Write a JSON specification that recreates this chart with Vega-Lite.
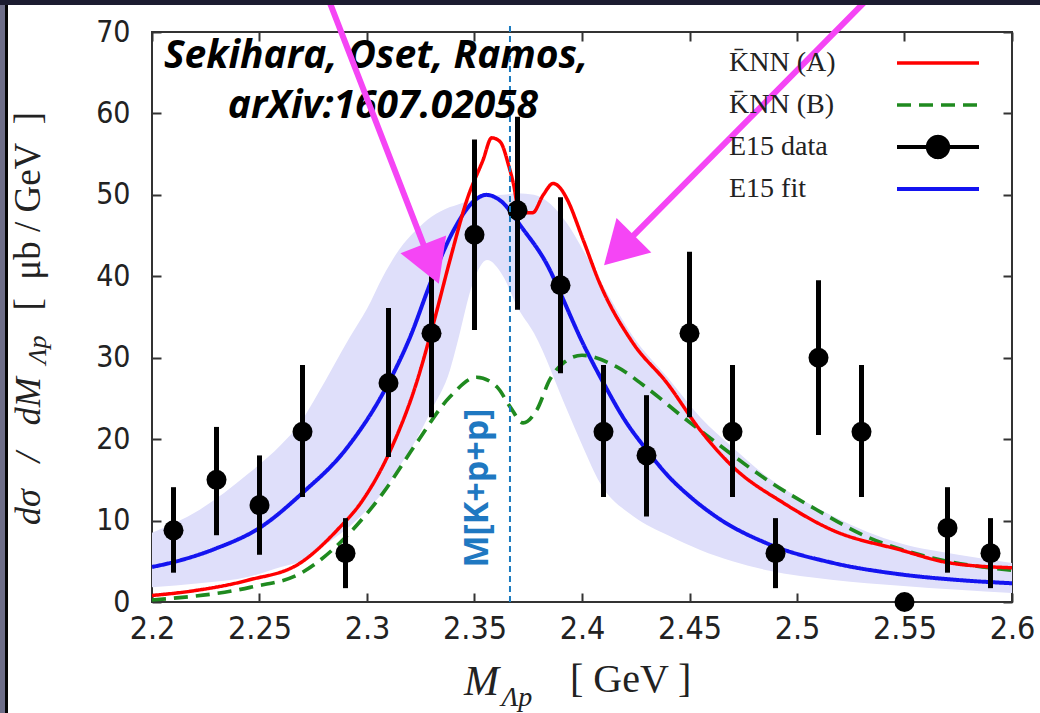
{
  "$schema": "https://vega.github.io/schema/vega-lite/v6.json",
  "width": 860,
  "height": 570,
  "autosize": {"type": "none"},
  "padding": {"left": 152, "top": 32, "right": 28, "bottom": 111},
  "background": "white",
  "config": {
    "view": {"stroke": "#333333", "strokeWidth": 2},
    "axis": {"grid": false, "domain": false, "tickColor": "#333333", "tickWidth": 2, "tickSize": -9, "labelFlush": false, "labelFont": "Liberation Sans Narrow, DejaVu Sans Condensed, sans-serif", "labelColor": "#222222", "labelFontSize": 30, "title": null}
  },
  "data": {"values": [{}]},
  "datasets": {
    "curves": [
      {"series": "E15 fit", "x": 2.200, "y": 4.3}, {"series": "E15 fit", "x": 2.210, "y": 4.9}, {"series": "E15 fit", "x": 2.230, "y": 6.6}, {"series": "E15 fit", "x": 2.250, "y": 9.1}, {"series": "E15 fit", "x": 2.270, "y": 13.4}, {"series": "E15 fit", "x": 2.290, "y": 18.7}, {"series": "E15 fit", "x": 2.310, "y": 26.9}, {"series": "E15 fit", "x": 2.320, "y": 32.5}, {"series": "E15 fit", "x": 2.330, "y": 39.5}, {"series": "E15 fit", "x": 2.340, "y": 45.5}, {"series": "E15 fit", "x": 2.350, "y": 49.3}, {"series": "E15 fit", "x": 2.3555, "y": 50.0}, {"series": "E15 fit", "x": 2.362, "y": 49.3}, {"series": "E15 fit", "x": 2.372, "y": 46.0}, {"series": "E15 fit", "x": 2.385, "y": 40.8}, {"series": "E15 fit", "x": 2.390, "y": 37.9}, {"series": "E15 fit", "x": 2.400, "y": 32.0}, {"series": "E15 fit", "x": 2.410, "y": 26.9}, {"series": "E15 fit", "x": 2.420, "y": 22.3}, {"series": "E15 fit", "x": 2.430, "y": 18.7}, {"series": "E15 fit", "x": 2.440, "y": 15.5}, {"series": "E15 fit", "x": 2.450, "y": 13.0}, {"series": "E15 fit", "x": 2.4628, "y": 10.4}, {"series": "E15 fit", "x": 2.486, "y": 7.2}, {"series": "E15 fit", "x": 2.5167, "y": 4.8}, {"series": "E15 fit", "x": 2.548, "y": 3.4}, {"series": "E15 fit", "x": 2.575, "y": 2.7}, {"series": "E15 fit", "x": 2.600, "y": 2.3},
      {"series": "K̄NN (B)", "x": 2.200, "y": 0.25}, {"series": "K̄NN (B)", "x": 2.2456, "y": 1.8}, {"series": "K̄NN (B)", "x": 2.269, "y": 3.5}, {"series": "K̄NN (B)", "x": 2.292, "y": 8.5}, {"series": "K̄NN (B)", "x": 2.3075, "y": 13.4}, {"series": "K̄NN (B)", "x": 2.323, "y": 19.5}, {"series": "K̄NN (B)", "x": 2.3386, "y": 25.2}, {"series": "K̄NN (B)", "x": 2.351, "y": 27.6}, {"series": "K̄NN (B)", "x": 2.3605, "y": 26.4}, {"series": "K̄NN (B)", "x": 2.3665, "y": 24.0}, {"series": "K̄NN (B)", "x": 2.3726, "y": 22.0}, {"series": "K̄NN (B)", "x": 2.379, "y": 23.6}, {"series": "K̄NN (B)", "x": 2.385, "y": 27.3}, {"series": "K̄NN (B)", "x": 2.392, "y": 29.5}, {"series": "K̄NN (B)", "x": 2.400, "y": 30.3}, {"series": "K̄NN (B)", "x": 2.416, "y": 28.9}, {"series": "K̄NN (B)", "x": 2.4316, "y": 26.0}, {"series": "K̄NN (B)", "x": 2.447, "y": 22.7}, {"series": "K̄NN (B)", "x": 2.4628, "y": 19.5}, {"series": "K̄NN (B)", "x": 2.486, "y": 15.0}, {"series": "K̄NN (B)", "x": 2.5093, "y": 11.3}, {"series": "K̄NN (B)", "x": 2.5326, "y": 8.0}, {"series": "K̄NN (B)", "x": 2.563, "y": 5.4}, {"series": "K̄NN (B)", "x": 2.600, "y": 3.9},
      {"series": "K̄NN (A)", "x": 2.200, "y": 0.8}, {"series": "K̄NN (A)", "x": 2.220, "y": 1.4}, {"series": "K̄NN (A)", "x": 2.245, "y": 2.7}, {"series": "K̄NN (A)", "x": 2.269, "y": 4.8}, {"series": "K̄NN (A)", "x": 2.286, "y": 8.8}, {"series": "K̄NN (A)", "x": 2.298, "y": 12.5}, {"series": "K̄NN (A)", "x": 2.311, "y": 18.7}, {"series": "K̄NN (A)", "x": 2.323, "y": 26.9}, {"series": "K̄NN (A)", "x": 2.331, "y": 34.3}, {"series": "K̄NN (A)", "x": 2.3386, "y": 42.0}, {"series": "K̄NN (A)", "x": 2.3465, "y": 49.4}, {"series": "K̄NN (A)", "x": 2.354, "y": 54.3}, {"series": "K̄NN (A)", "x": 2.358, "y": 57.0}, {"series": "K̄NN (A)", "x": 2.362, "y": 56.5}, {"series": "K̄NN (A)", "x": 2.366, "y": 53.5}, {"series": "K̄NN (A)", "x": 2.368, "y": 51.5}, {"series": "K̄NN (A)", "x": 2.371, "y": 47.8}, {"series": "K̄NN (A)", "x": 2.377, "y": 47.8}, {"series": "K̄NN (A)", "x": 2.382, "y": 50.0}, {"series": "K̄NN (A)", "x": 2.3866, "y": 51.4}, {"series": "K̄NN (A)", "x": 2.390, "y": 50.8}, {"series": "K̄NN (A)", "x": 2.393, "y": 49.5}, {"series": "K̄NN (A)", "x": 2.4005, "y": 44.5}, {"series": "K̄NN (A)", "x": 2.408, "y": 39.3}, {"series": "K̄NN (A)", "x": 2.4237, "y": 31.8}, {"series": "K̄NN (A)", "x": 2.4395, "y": 26.9}, {"series": "K̄NN (A)", "x": 2.455, "y": 21.1}, {"series": "K̄NN (A)", "x": 2.4702, "y": 16.6}, {"series": "K̄NN (A)", "x": 2.4935, "y": 12.2}, {"series": "K̄NN (A)", "x": 2.5167, "y": 8.8}, {"series": "K̄NN (A)", "x": 2.548, "y": 6.4}, {"series": "K̄NN (A)", "x": 2.571, "y": 4.8}, {"series": "K̄NN (A)", "x": 2.600, "y": 4.2}
    ],
    "band": [
      {"x": 2.200, "lo": 1.8, "hi": 8.5}, {"x": 2.222, "lo": 2.3, "hi": 11.3}, {"x": 2.245, "lo": 3.1, "hi": 15.8}, {"x": 2.260, "lo": 4.3, "hi": 19.3}, {"x": 2.269, "lo": 5.0, "hi": 22.0}, {"x": 2.277, "lo": 6.4, "hi": 25.5}, {"x": 2.292, "lo": 9.3, "hi": 32.5}, {"x": 2.300, "lo": 11.3, "hi": 36.0}, {"x": 2.3075, "lo": 13.5, "hi": 40.0}, {"x": 2.315, "lo": 16.6, "hi": 43.3}, {"x": 2.323, "lo": 20.0, "hi": 45.7}, {"x": 2.330, "lo": 23.6, "hi": 47.3}, {"x": 2.3386, "lo": 28.5, "hi": 48.5}, {"x": 2.342, "lo": 31.8, "hi": 48.8}, {"x": 2.3493, "lo": 39.2, "hi": 49.4}, {"x": 2.3558, "lo": 42.0, "hi": 49.8}, {"x": 2.3633, "lo": 40.0, "hi": 50.0}, {"x": 2.370, "lo": 36.2, "hi": 50.2}, {"x": 2.3777, "lo": 33.0, "hi": 50.0}, {"x": 2.393, "lo": 23.6, "hi": 46.5}, {"x": 2.4005, "lo": 19.0, "hi": 43.2}, {"x": 2.4084, "lo": 14.6, "hi": 39.5}, {"x": 2.424, "lo": 10.5, "hi": 32.5}, {"x": 2.440, "lo": 8.2, "hi": 27.5}, {"x": 2.455, "lo": 6.4, "hi": 22.7}, {"x": 2.470, "lo": 5.0, "hi": 19.0}, {"x": 2.486, "lo": 3.9, "hi": 15.4}, {"x": 2.517, "lo": 2.7, "hi": 10.5}, {"x": 2.548, "lo": 2.0, "hi": 7.2}, {"x": 2.575, "lo": 1.5, "hi": 5.8}, {"x": 2.600, "lo": 1.1, "hi": 4.8}
    ],
    "e15": [
      {"x": 2.21, "y": 8.8, "lo": 3.6, "hi": 14.1}, {"x": 2.23, "y": 15.0, "lo": 8.2, "hi": 21.5}, {"x": 2.25, "y": 11.9, "lo": 5.8, "hi": 18.0}, {"x": 2.27, "y": 20.9, "lo": 12.9, "hi": 29.1}, {"x": 2.29, "y": 6.0, "lo": 1.7, "hi": 10.3}, {"x": 2.31, "y": 26.9, "lo": 17.8, "hi": 36.1}, {"x": 2.33, "y": 33.0, "lo": 22.7, "hi": 40.0}, {"x": 2.35, "y": 45.1, "lo": 33.4, "hi": 56.8}, {"x": 2.37, "y": 48.1, "lo": 35.9, "hi": 59.6}, {"x": 2.39, "y": 38.9, "lo": 28.1, "hi": 49.7}, {"x": 2.41, "y": 20.9, "lo": 12.9, "hi": 29.1}, {"x": 2.43, "y": 18.0, "lo": 10.5, "hi": 25.4}, {"x": 2.45, "y": 33.0, "lo": 22.7, "hi": 43.0}, {"x": 2.47, "y": 20.9, "lo": 12.9, "hi": 29.1}, {"x": 2.49, "y": 6.0, "lo": 1.7, "hi": 10.3}, {"x": 2.51, "y": 30.0, "lo": 20.5, "hi": 39.5}, {"x": 2.53, "y": 20.9, "lo": 12.9, "hi": 29.1}, {"x": 2.55, "y": 0.0, "lo": 0.0, "hi": 0.0}, {"x": 2.57, "y": 9.1, "lo": 3.6, "hi": 14.1}, {"x": 2.59, "y": 6.0, "lo": 1.7, "hi": 10.3}
    ]
  },
  "layer": [
    {
      "data": {"name": "band"},
      "mark": {"type": "area", "color": "#dfdffa", "interpolate": "monotone"},
      "encoding": {
        "x": {"field": "x", "type": "quantitative", "scale": {"domain": [2.2, 2.6], "nice": false, "zero": false}, "axis": {"orient": "bottom", "values": [2.2, 2.25, 2.3, 2.35, 2.4, 2.45, 2.5, 2.55, 2.6], "format": "~g", "labelPadding": 20, "labelFontSize": 32}},
        "y": {"field": "lo", "type": "quantitative", "scale": {"domain": [0, 70], "nice": false, "zero": false}, "axis": {"orient": "left", "values": [0, 10, 20, 30, 40, 50, 60, 70], "labelPadding": 31}},
        "y2": {"field": "hi"}
      }
    },
    {
      "data": {"name": "curves"},
      "mark": {"type": "line", "interpolate": "monotone"},
      "encoding": {
        "x": {"field": "x", "type": "quantitative", "axis": {"orient": "top", "labels": false, "values": [2.2, 2.25, 2.3, 2.35, 2.4, 2.45, 2.5, 2.55, 2.6]}},
        "y": {"field": "y", "type": "quantitative", "axis": {"orient": "right", "labels": false, "values": [0, 10, 20, 30, 40, 50, 60, 70]}},
        "color": {
          "field": "series", "type": "nominal",
          "scale": {"domain": ["K̄NN (A)", "K̄NN (B)", "E15 data", "E15 fit"], "range": ["#ff0000", "#1f8a1f", "#000000", "#1414f0"]},
          "legend": {
            "title": null, "orient": "none", "legendX": 743, "legendY": 10, "padding": 0,
            "symbolType": "M-1,0H1", "symbolSize": 6724, "symbolStrokeWidth": 3.5,
            "labelFont": "Liberation Serif", "labelFontSize": 28, "labelColor": "#222222",
            "labelAlign": "left", "labelOffset": -252, "rowPadding": 0, "clipHeight": 42, "labelLimit": 0,
            "encode": {
              "entries": {
                "update": {"width": {"value": 95}}
              },
              "symbols": {
                "update": {
                  "shape": {"signal": "datum.value === 'E15 data' ? 'M-1,0H1M-0.25,0A0.25,0.25 0 1,1 0.25,0A0.25,0.25 0 1,1 -0.25,0Z' : 'M-1,0H1'"},
                  "strokeDash": {"signal": "indexof(datum.value, '(B)') >= 0 ? [15, 10] : [1, 0]"},
                  "fill": {"signal": "datum.value === 'E15 data' ? '#000000' : 'transparent'"},
                  "fillOpacity": {"value": 1},
                  "strokeWidth": {"signal": "datum.value === 'E15 fit' ? 3 : 4"},
                  "stroke": {"scale": "color", "field": "value"},
                  "opacity": {"value": 1}
                }
              }
            }
          }
        },
        "strokeDash": {"field": "series", "type": "nominal", "scale": {"domain": ["K̄NN (A)", "K̄NN (B)", "E15 data", "E15 fit"], "range": [[1, 0], [14, 8], [1, 0], [1, 0]]}, "legend": null},
        "strokeWidth": {"field": "series", "type": "nominal", "scale": {"domain": ["K̄NN (A)", "K̄NN (B)", "E15 data", "E15 fit"], "range": [3.5, 4, 3, 2.5]}, "legend": null}
      }
    },
    {
      "data": {"name": "e15"},
      "mark": {"type": "rule", "strokeWidth": 5},
      "encoding": {
        "x": {"field": "x", "type": "quantitative", "axis": null},
        "y": {"field": "lo", "type": "quantitative", "axis": null},
        "y2": {"field": "hi"},
        "color": {"datum": "E15 data"}
      }
    },
    {
      "data": {"name": "e15"},
      "mark": {"type": "point", "filled": true, "size": 400, "opacity": 1},
      "encoding": {
        "x": {"field": "x", "type": "quantitative", "axis": null},
        "y": {"field": "y", "type": "quantitative", "axis": null},
        "color": {"datum": "E15 data"}
      }
    },
    {
      "mark": {"type": "rule", "color": "#1a7abf", "strokeWidth": 2, "strokeDash": [6, 4]},
      "encoding": {"x": {"datum": 2.3665, "type": "quantitative", "axis": null}, "y": {"datum": 0, "type": "quantitative", "axis": null}, "y2": {"datum": 70.9}}
    },
    {
      "mark": {"type": "text", "text": "M[K+p+p]", "angle": 270, "align": "center", "baseline": "middle", "font": "Open Sans", "fontWeight": "bold", "fontSize": 34, "color": "#1f78c1"},
      "encoding": {"x": {"datum": 2.3516, "type": "quantitative", "axis": null}, "y": {"datum": 14.0, "type": "quantitative", "axis": null}}
    },
    {
      "mark": {"type": "text", "text": "Sekihara, Oset, Ramos,", "align": "center", "baseline": "alphabetic", "font": "Open Sans", "fontWeight": "bold", "fontStyle": "italic", "fontSize": 39, "color": "#000000"},
      "encoding": {"x": {"datum": 2.3042, "type": "quantitative", "axis": null}, "y": {"datum": 65.6, "type": "quantitative", "axis": null}}
    },
    {
      "mark": {"type": "text", "text": "arXiv:1607.02058", "align": "center", "baseline": "alphabetic", "font": "Open Sans", "fontWeight": "bold", "fontStyle": "italic", "fontSize": 39, "color": "#000000"},
      "encoding": {"x": {"datum": 2.3074, "type": "quantitative", "axis": null}, "y": {"datum": 59.44, "type": "quantitative", "axis": null}}
    },
    {
      "mark": {"type": "text", "text": "M", "align": "left", "baseline": "alphabetic", "font": "Liberation Serif", "fontStyle": "italic", "fontSize": 42, "color": "#222222"},
      "encoding": {"x": {"datum": 2.3451, "type": "quantitative", "axis": null}, "y": {"datum": -11.42, "type": "quantitative", "axis": null}}
    },
    {
      "mark": {"type": "text", "text": "Λp", "align": "left", "baseline": "alphabetic", "font": "Liberation Serif", "fontStyle": "italic", "fontSize": 28, "color": "#222222"},
      "encoding": {"x": {"datum": 2.3625, "type": "quantitative", "axis": null}, "y": {"datum": -12.77, "type": "quantitative", "axis": null}}
    },
    {
      "mark": {"type": "text", "text": "[ GeV ]", "align": "left", "baseline": "alphabetic", "font": "Liberation Serif", "fontSize": 40, "color": "#222222"},
      "encoding": {"x": {"datum": 2.3944, "type": "quantitative", "axis": null}, "y": {"datum": -11.05, "type": "quantitative", "axis": null}}
    },
    {
      "mark": {"type": "text", "text": "dσ\u00a0\u00a0\u00a0/\u00a0\u00a0\u00a0dM", "angle": 270, "align": "left", "baseline": "alphabetic", "font": "Liberation Serif", "fontStyle": "italic", "fontSize": 36, "color": "#222222"},
      "encoding": {"x": {"datum": 2.1479, "type": "quantitative", "axis": null}, "y": {"datum": 9.46, "type": "quantitative", "axis": null}}
    },
    {
      "mark": {"type": "text", "text": "Λp", "angle": 270, "align": "left", "baseline": "alphabetic", "font": "Liberation Serif", "fontStyle": "italic", "fontSize": 26, "color": "#222222"},
      "encoding": {"x": {"datum": 2.1507, "type": "quantitative", "axis": null}, "y": {"datum": 29.2, "type": "quantitative", "axis": null}}
    },
    {
      "mark": {"type": "text", "text": "[\u00a0\u00a0μb\u00a0/\u00a0GeV\u00a0\u00a0]", "angle": 270, "align": "left", "baseline": "alphabetic", "font": "Liberation Serif", "fontSize": 37, "color": "#222222"},
      "encoding": {"x": {"datum": 2.1479, "type": "quantitative", "axis": null}, "y": {"datum": 35.8, "type": "quantitative", "axis": null}}
    },
    {
      "mark": {"type": "rule", "color": "#f545f5", "strokeWidth": 6, "strokeCap": "round"},
      "encoding": {"x": {"datum": 2.2814, "type": "quantitative", "axis": null}, "y": {"datum": 74.5, "type": "quantitative", "axis": null}, "x2": {"datum": 2.3298}, "y2": {"datum": 41.5}}
    },
    {
      "mark": {"type": "point", "shape": "triangle-down", "filled": true, "size": 2400, "angle": -21.4, "color": "#f545f5", "opacity": 1},
      "encoding": {"x": {"datum": 2.3298, "type": "quantitative", "axis": null}, "y": {"datum": 41.5, "type": "quantitative", "axis": null}}
    },
    {
      "mark": {"type": "rule", "color": "#f545f5", "strokeWidth": 6, "strokeCap": "round"},
      "encoding": {"x": {"datum": 2.5345, "type": "quantitative", "axis": null}, "y": {"datum": 74.5, "type": "quantitative", "axis": null}, "x2": {"datum": 2.4172}, "y2": {"datum": 43.2}}
    },
    {
      "mark": {"type": "point", "shape": "triangle-down", "filled": true, "size": 2400, "angle": 44.8, "color": "#f545f5", "opacity": 1},
      "encoding": {"x": {"datum": 2.4172, "type": "quantitative", "axis": null}, "y": {"datum": 43.2, "type": "quantitative", "axis": null}}
    },
    {
      "mark": {"type": "rect", "color": "#6e6e88"},
      "encoding": {"x": {"datum": 2.1293, "type": "quantitative", "axis": null}, "x2": {"datum": 2.13163}, "y": {"datum": 74.5, "type": "quantitative", "axis": null}, "y2": {"datum": -14}}
    },
    {
      "mark": {"type": "rect", "color": "#050505"},
      "encoding": {"x": {"datum": 2.13163, "type": "quantitative", "axis": null}, "x2": {"datum": 2.13302}, "y": {"datum": 74.5, "type": "quantitative", "axis": null}, "y2": {"datum": -14}}
    },
    {
      "mark": {"type": "rect", "color": "#1c1c30"},
      "encoding": {"x": {"datum": 2.1293, "type": "quantitative", "axis": null}, "x2": {"datum": 2.62}, "y": {"datum": 74.5, "type": "quantitative", "axis": null}, "y2": {"datum": 73.31}}
    }
  ],
  "resolve": {"axis": {"x": "independent", "y": "independent"}}
}
